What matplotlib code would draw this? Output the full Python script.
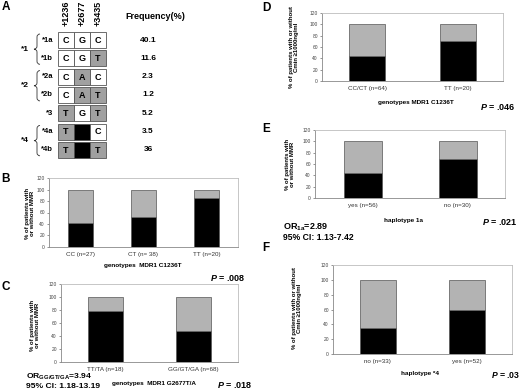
import matplotlib
matplotlib.use("Agg")
import matplotlib.pyplot as plt
from matplotlib.patches import Rectangle, PathPatch
from matplotlib.path import Path

W, H = 520, 392

# panel A: haplotype table
haplotypes = ["*1a", "*1b", "*2a", "*2b", "*3", "*4a", "*4b"]
positions = ["+1236", "+2677", "+3435"]
reference = ["C", "G", "C"]
allele_1236 = ["C", "C", "C", "C", "T", "T", "T"]
allele_2677 = ["G", "G", "A", "A", "G", "", ""]
allele_3435 = ["C", "T", "C", "T", "T", "C", "T"]
frequency = ["40.1", "11.6", "2.3", "1.2", "5.2", "3.5", "36"]
groups = [("*1", 0, 1), ("*2", 2, 3), ("*4", 5, 6)]

# panels B-F: % of patients with the outcome (black); rest is without (grey)
b_cats = ["CC (n=27)", "CT (n= 38)", "TT (n=20)"]
b_with = [41, 52, 85]
c_cats = ["TT/TA (n=18)", "GG/GT/GA (n=68)"]
c_with = [78, 47]
d_cats = ["CC/CT (n=64)", "TT (n=20)"]
d_with = [45, 70]
e_cats = ["yes (n=56)", "no (n=30)"]
e_with = [44, 69]
f_cats = ["no (n=33)", "yes (n=52)"]
f_with = [35, 59]

BAR_GREY = "#b3b3b3"
CELL_GREY = "#a0a0a0"
EDGE = "#555555"
FRAME = "#bdbdbd"

plt.rcParams.update({
    "font.family": ["Liberation Sans", "DejaVu Sans"],
    "mathtext.fontset": "custom",
    "mathtext.rm": "Liberation Sans:bold",
    "mathtext.it": "Liberation Sans:italic:bold",
    "mathtext.bf": "Liberation Sans:bold",
})


def box(l, t, r, b):
    return [l / W, 1 - b / H, (r - l) / W, (b - t) / H]


fig = plt.figure(figsize=(W / 100, H / 100), dpi=100)
cv = fig.add_axes([0, 0, 1, 1])
cv.set_xlim(0, W)
cv.set_ylim(H, 0)
cv.axis("off")


def txt(x, y, s, size=5, ha="center", va="center", weight="bold", **kw):
    cv.text(x, y, s, fontsize=size, ha=ha, va=va, fontweight=weight, **kw)


def brace(x, y0, y1, w=6, lw=0.6):
    ym = (y0 + y1) / 2
    xm = x + w / 2
    r = 3
    verts = [(x + w, y0), (xm, y0), (xm, y0 + r),
             (xm, ym - r), (xm, ym), (x, ym),
             (xm, ym), (xm, ym + r),
             (xm, y1 - r), (xm, y1), (x + w, y1)]
    codes = [Path.MOVETO, Path.CURVE3, Path.CURVE3,
             Path.LINETO, Path.CURVE3, Path.CURVE3,
             Path.CURVE3, Path.CURVE3,
             Path.LINETO, Path.CURVE3, Path.CURVE3]
    cv.add_patch(PathPatch(Path(verts, codes), fc="none", ec="#333333", lw=lw))


# ---- panel A ----
txt(6, 7, "A", size=8.5, ha="center")
col_x = [58, 74, 90]
cell = 16
pitch = 18.3
top0 = 32
for j, p in enumerate(positions):
    txt(col_x[j] + cell / 2, 26, p, size=6.5, rotation=90, va="bottom")
txt(155, 16, "Frequency(%)", size=6.5)
for i, hap in enumerate(haplotypes):
    top = top0 + i * pitch
    row = [allele_1236[i], allele_2677[i], allele_3435[i]]
    for j, a in enumerate(row):
        if a == "":
            fc = "black"
        elif a == reference[j]:
            fc = "white"
        else:
            fc = CELL_GREY
        cv.add_patch(Rectangle((col_x[j], top), cell, cell, fc=fc, ec=EDGE, lw=0.6))
        txt(col_x[j] + cell / 2, top + cell / 2 + 0.5, a, size=6.5)
    txt(53, top + cell / 2, hap, size=5.5, ha="right")
    txt(148, top + cell / 2, frequency[i], size=6)
for name, r0, r1 in groups:
    y0 = top0 + r0 * pitch + 2
    y1 = top0 + r1 * pitch + cell - 2
    brace(34, y0, y1)
    txt(25, (y0 + y1) / 2, name, size=6)


def bar_panel(rect, cats, with_vals):
    ax = fig.add_axes(box(*rect))
    x = list(range(len(cats)))
    without = [100 - v for v in with_vals]
    ax.bar(x, with_vals, width=0.4, color="black", edgecolor=EDGE, lw=0.5)
    ax.bar(x, without, bottom=with_vals, width=0.4, color=BAR_GREY,
           edgecolor=EDGE, lw=0.5)
    ax.set_xlim(-0.5, len(cats) - 0.5)
    ax.set_ylim(0, 120)
    ax.set_yticks(range(0, 121, 20))
    ax.tick_params(axis="y", labelsize=3.5, length=1.5, width=0.4, pad=1.5,
                   colors="#444444")
    ax.set_xticks(x)
    ax.set_xticklabels(cats, fontsize=4.5, color="#333333")
    ax.tick_params(axis="x", length=0, pad=3.5)
    for s in ("top", "right"):
        ax.spines[s].set_color(FRAME)
        ax.spines[s].set_linewidth(0.6)
    for s in ("left", "bottom"):
        ax.spines[s].set_color("#888888")
        ax.spines[s].set_linewidth(0.6)
    return ax


MMR = "% of patients with\nor without MMR"
CMIN = "% of patients with or without\nCmin \u22651000ng/ml"

# ---- panel B ----
txt(6, 179, "B", size=8.5)
bar_panel((49, 178, 238, 247), b_cats, b_with)
txt(30, 213, MMR, size=4.3, rotation=90, linespacing=1.1)
txt(143, 265, "genotypes  MDR1 C1236T", size=4.6)
txt(228, 278, "$P$ = .008", size=6.5)

# ---- panel C ----
txt(6, 287, "C", size=8.5)
bar_panel((61, 284, 238, 362), c_cats, c_with)
txt(35, 325, MMR, size=4.3, rotation=90, linespacing=1.1)
txt(154, 383, "genotypes  MDR1 G2677T/A", size=4.6)
txt(235, 385, "$P$ = .018", size=6.5)
txt(26, 377, r"OR$_{\mathrm{GG/GT/GA}}$=3.94", size=6.1, ha="left")
txt(26, 387, "95% CI: 1.18-13.19", size=6.1, ha="left")

# ---- panel D ----
txt(266, 8, "D", size=8.5)
bar_panel((322, 13, 503, 81), d_cats, d_with)
txt(294, 47, CMIN, size=4.3, rotation=90, linespacing=1.1)
txt(416, 102, "genotypes MDR1 C1236T", size=4.6)
txt(498, 107, "$P$ = .046", size=6.5)

# ---- panel E ----
txt(266, 129, "E", size=8.5)
bar_panel((315, 130, 505, 198), e_cats, e_with)
txt(290, 164, MMR, size=4.3, rotation=90, linespacing=1.1)
txt(404, 220, "haplotype 1a", size=4.6)
txt(500, 222, "$P$ = .021", size=6.5)
txt(283, 227, r"OR$_{\mathrm{1a}}$=2.89", size=6.5, ha="left")
txt(283, 237, "95% CI: 1.13-7.42", size=6.2, ha="left")

# ---- panel F ----
txt(266, 248, "F", size=8.5)
bar_panel((333, 265, 512, 354), f_cats, f_with)
txt(297, 308, CMIN, size=4.3, rotation=90, linespacing=1.1)
txt(420, 373, "haplotype *4", size=4.6)
txt(491, 375, "$P$ = .03", size=6.2, ha="left")

fig.savefig("out.png", dpi=100)
